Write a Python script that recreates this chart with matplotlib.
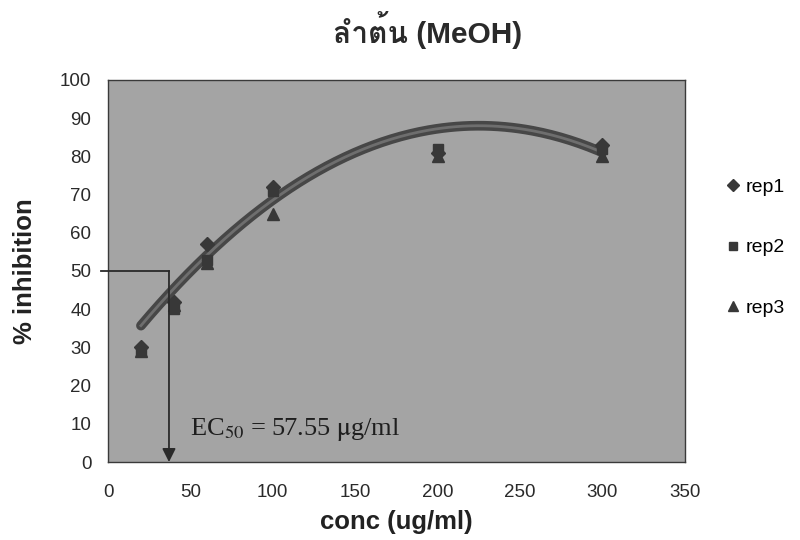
"""
Dose-response chart: % inhibition vs concentration (stem, MeOH extract)
"""
import numpy as np
import matplotlib
matplotlib.use("Agg")
import matplotlib.pyplot as plt
from matplotlib import font_manager
from matplotlib.ft2font import FT2Font

# data
conc = [20, 40, 60, 100, 200, 300]
rep1 = [30, 42, 57, 72, 81, 83]
rep2 = [29, 40, 53, 71, 82, 82]
rep3 = [29, 41, 52, 65, 80, 80]
trend_coef = [-0.001244, 0.56, 25.0]   # 2nd order trendline shown on the chart
trend_range = [20, 300]
ec50_x = 37
ec50_y = 50
ec50_label = r'EC$_{50}$ = 57.55 $\mathrm{\mu}$g/ml'
title = 'ลำต้น (MeOH)'
x_ticks = [0, 50, 100, 150, 200, 250, 300, 350]
y_ticks = [0, 10, 20, 30, 40, 50, 60, 70, 80, 90, 100]


def find_thai_font():
    """Look for any installed font that has Thai glyphs"""
    for f in font_manager.fontManager.ttflist:
        try:
            cmap = FT2Font(f.fname).get_charmap()
        except Exception:
            continue
        if 0x0E25 in cmap and 0x0E15 in cmap:
            return f.name
    return None


thai = find_thai_font()
title_family = ['Liberation Sans'] + ([thai] if thai else []) + ['DejaVu Sans']

plt.rcParams['font.family'] = ['Liberation Sans', 'DejaVu Sans']
plt.rcParams['mathtext.fontset'] = 'stix'

fig = plt.figure(figsize=(8, 5.4), dpi=100)
ax = fig.add_axes([0.135, 0.1444, 0.721, 0.7075])
ax.set_facecolor('#a4a4a4')

# trendline
xs = np.linspace(trend_range[0], trend_range[1], 200)
ax.plot(xs, np.polyval(trend_coef, xs), color='#474747', lw=7, solid_capstyle='round', zorder=2)
ax.plot(xs, np.polyval(trend_coef, xs), color='#6e6e6e', lw=2, zorder=2)

mk = dict(color='#383838', linestyle='none', zorder=3)
h1, = ax.plot(conc, rep1, marker='D', markersize=7.5, label='rep1', **mk)
h2, = ax.plot(conc, rep2, marker='s', markersize=7.5, label='rep2', **mk)
h3, = ax.plot(conc, rep3, marker='^', markersize=8.5, label='rep3', **mk)

# EC50 guide lines
ax.plot([-4, ec50_x], [ec50_y, ec50_y], color='#2a2a2a', lw=1.3, clip_on=False, zorder=4)
ax.annotate('', xy=(ec50_x, 0), xytext=(ec50_x, ec50_y),
            arrowprops=dict(arrowstyle='-|>', color='#2a2a2a', lw=1.3,
                            mutation_scale=20, shrinkA=0, shrinkB=0),
            zorder=4)
ax.text(50, 8.5, ec50_label, family='Liberation Serif', fontsize=19,
        color='#1e1e1e', va='center', ha='left')

ax.set_xlim(0, 350)
ax.set_ylim(0, 100)
ax.set_xticks(x_ticks)
ax.set_yticks(y_ticks)
ax.tick_params(length=0, labelsize=13.5, colors='#2a2a2a')
ax.tick_params(axis='x', pad=16)
ax.tick_params(axis='y', pad=12)
for s in ax.spines.values():
    s.set_color('#3a3a3a')
    s.set_linewidth(1.0)

ax.set_xlabel('conc (ug/ml)', fontsize=18.5, fontweight='bold', color='#222222')
ax.set_ylabel('% inhibition', fontsize=18.5, fontweight='bold', color='#222222')
ax.xaxis.set_label_coords(0.5, -0.157)
ax.yaxis.set_label_coords(-0.144, 0.5)
ax.xaxis.label.set_va('center')
ax.yaxis.label.set_va('center')

fig.text(0.535, 0.945, title, family=title_family, fontsize=21.5, fontweight='bold',
         ha='center', va='center', color='#2a2a2a')

fig.legend(handles=[h1, h2, h3], loc='upper left', bbox_to_anchor=(0.887, 0.702),
           frameon=False, fontsize=14, labelspacing=2.2, handlelength=0.6,
           handletextpad=0.35, markerscale=0.85)

plt.savefig('out.png', dpi=100)
plt.close()
